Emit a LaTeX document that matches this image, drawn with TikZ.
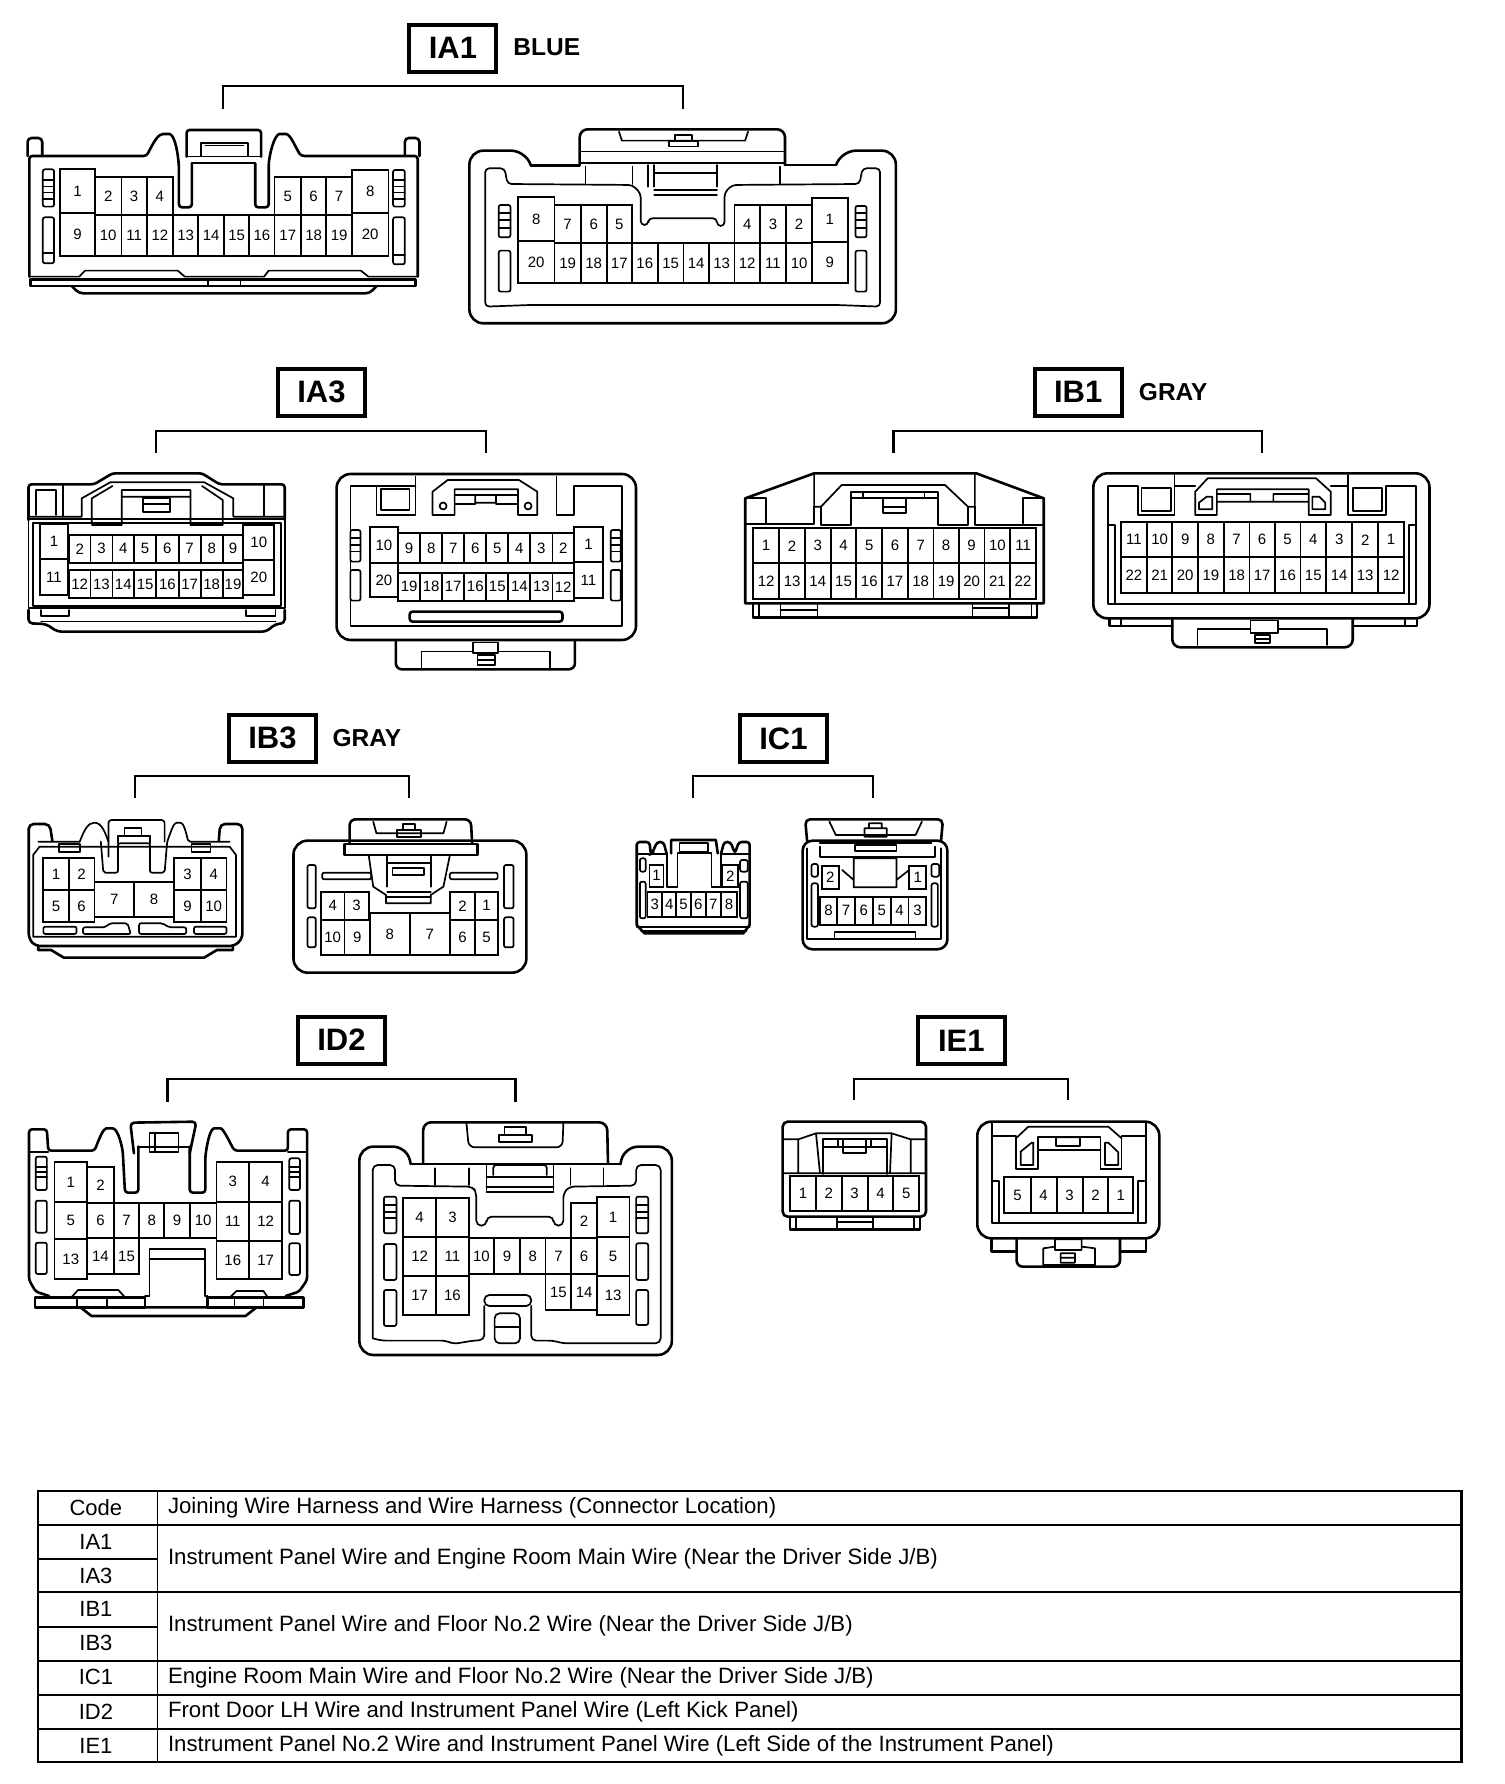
\documentclass[tikz,border=0pt]{standalone}
\usepackage{fontspec}
\setmainfont{Liberation Sans}
\newcounter{pn}
\tikzset{
 ol/.style={line width=2.6pt,line join=round,line cap=round},
 il/.style={line width=1.7pt,line join=round,line cap=round},
 pinline/.style={line width=1.8pt},
 pinnum/.style={inner sep=0pt,font=\fontsize{15}{15}\selectfont},
 bracket/.style={line width=2.2pt},
 titlebox/.style={draw,line width=4pt,minimum width=87pt,minimum height=47pt,inner sep=0pt,font=\fontsize{31}{31}\selectfont\bfseries},
 colorlabel/.style={inner sep=0pt,font=\fontsize{24.5}{25}\selectfont\bfseries},
 tbl/.style={line width=2.2pt},
 tcode/.style={inner sep=0pt,font=\fontsize{22}{22}\selectfont},
 ttext/.style={inner sep=0pt,anchor=west,font=\fontsize{22.2}{22}\selectfont},
}
\newcommand{\pinbox}[5]{\stepcounter{pn}\draw[pinline] (#1,#3) rectangle (#2,#4); \node[pinnum] (pin\arabic{pn}) at ({(#1+#2)/2},{(#3+#4)/2}) {#5};}
\newcommand{\prow}[4]{\foreach \xr/\lab [remember=\xr as \xl (initially #3)] in {#4}{\pinbox{\xl}{\xr}{#1}{#2}{\lab}}}
\newcommand{\sbar}[4]{\draw[il,rounded corners=2pt] (#1,#2) rectangle (#3,#4);}
\newcommand{\ribs}[3]{\foreach \ry in {#3}{\draw[il] (#1,\ry) -- (#2,\ry);}}
\begin{document}
\begin{tikzpicture}[x=1pt,y=-1pt]
\fill[white] (0,0) rectangle (1504,1784);
\useasboundingbox (0,0) rectangle (1504,1784);

% ===== IA1 =====
\begin{scope}[x=.5867pt,y=-.3333pt]
\node[titlebox] (tIA1) at (772,145) {IA1};
\node[colorlabel] (cIA1) at (932,143) {BLUE};
\coordinate (a1) at (380,328); \coordinate (a2) at (1164,328); \coordinate (a3) at (772,258);
\draw[bracket] (a1) |- (a3) -| (a2);
% left
\draw[ol,rounded corners=3pt] (50,830) -- (50,468) -- (250,468) .. controls (262,425) and (270,402) .. (283,402) .. controls (296,402) and (302,440) .. (305,500) -- (305,622) -- (327,622) -- (327,490);
\draw[ol,rounded corners=3pt] (435,490) -- (435,622) -- (458,622) -- (458,490) .. controls (462,440) and (470,402) .. (482,402) .. controls (495,402) and (503,440) .. (513,468) -- (712,468) -- (712,830);
\draw[ol,rounded corners=4pt] (47,468) -- (47,414) -- (72,414) -- (72,465);
\draw[ol,rounded corners=4pt] (690,465) -- (690,414) -- (715,414) -- (715,468);
\draw[ol,rounded corners=3pt] (318,470) -- (318,390) -- (445,390) -- (445,470);
\draw[il] (327,490) -- (435,490) (318,470) -- (445,470);
\draw[il] (343,468) -- (343,430) -- (423,430) -- (423,468) (350,437) -- (415,437);
\draw[il] (50,830) -- (135,830) -- (145,812) -- (303,812) -- (315,830) -- (450,830) -- (458,812) -- (615,812) -- (628,830) -- (712,830);
\draw[ol] (52,838) rectangle (708,858);
\draw[il] (355,838) -- (355,858) (410,838) -- (410,858);
\draw[ol,rounded corners=4pt] (122,858) -- (135,880) -- (630,880) -- (642,858);
\prow{532}{645}{162}{207/2,250/3,295/4}
\prow{532}{645}{468}{513/5,556/6,600/7}
\pinbox{102}{162}{508}{640}{1}
\pinbox{600}{662}{510}{640}{8}
\pinbox{102}{162}{640}{768}{9}
\pinbox{600}{662}{640}{768}{20}
\prow{645}{768}{162}{207/10,250/11,295/12,338/13,382/14,425/15,468/16,513/17,556/18,600/19}
\sbar{73}{508}{92}{620}\ribs{73}{92}{540,560,578,597}
\sbar{73}{652}{92}{790}\ribs{73}{92}{760}
\sbar{670}{510}{690}{620}\ribs{670}{690}{540,560,578,597}
\sbar{670}{652}{690}{793}\ribs{670}{690}{765}
% right
\draw[ol,rounded corners=14pt] (905,497) -- (895,452) -- (800,452) -- (800,970) -- (1527,970) -- (1527,452) -- (1435,452) -- (1425,495);
\draw[ol] (905,497) -- (988,497) (1338,495) -- (1425,495);
\draw[ol,rounded corners=8pt] (988,495) -- (988,388) -- (1338,388) -- (1338,495);
\draw[il] (988,455) -- (1338,455) (988,490) -- (1338,490);
\draw[il] (1055,395) -- (1060,422) -- (1270,422) -- (1275,395);
\draw[il] (1140,440) rectangle (1190,425) (1150,425) rectangle (1180,405);
\draw[il,rounded corners=4pt] (827,920) -- (827,505) -- (860,505) -- (865,552) -- (1078,555) -- (1092,580) -- (1092,675) -- (1105,675) -- (1105,655) -- (1222,655) -- (1222,678) -- (1235,678) -- (1235,578) -- (1248,555) -- (1465,552) -- (1470,505) -- (1500,505) -- (1500,920) -- (1425,915) -- (905,915) -- cycle;
\draw[il] (998,500) -- (998,552) (1330,500) -- (1330,552) (1078,500) -- (1078,552) (1105,495) -- (1105,560) (1115,495) -- (1115,560) (1222,495) -- (1222,560) (1115,520) -- (1222,520) (1115,570) -- (1222,570) (1115,585) -- (1222,585);
\pinbox{883}{945}{592}{723}{8}
\prow{615}{730}{945}{990/7,1034/6,1077/5}
\prow{615}{730}{1252}{1295/4,1340/3,1384/2}
\pinbox{1384}{1445}{593}{725}{1}
\pinbox{883}{945}{723}{850}{20}
\prow{730}{850}{945}{990/19,1034/18,1077/17,1121/16,1165/15,1208/14,1252/13,1295/12,1340/11,1384/10}
\pinbox{1384}{1445}{725}{850}{9}
\sbar{850}{615}{870}{712}\ribs{850}{870}{640,660,685}
\sbar{850}{752}{870}{875}
\sbar{1458}{618}{1477}{712}\ribs{1458}{1477}{640,660,685}
\sbar{1458}{752}{1477}{875}
\end{scope}

% ===== IA3 =====
\begin{scope}[yshift=-350pt,x=.4592pt,y=-.3333pt]
\node[titlebox] (tIA3) at (700,127) {IA3};
\coordinate (b1) at (340,310); \coordinate (b2) at (1058,310); \coordinate (b3) at (700,242);
\draw[bracket] (b1) |- (b3) -| (b2);
\draw[ol,rounded corners=3pt] (62,510) -- (62,403) -- (205,403) -- (245,370) -- (440,370) -- (478,403) -- (620,403) -- (620,510);
\draw[il] (78,495) -- (78,420) -- (122,420) -- (122,495) (137,403) -- (137,500) (575,405) -- (575,500);
\draw[il] (62,500) -- (178,500) -- (178,445) -- (240,397) -- (445,397) -- (508,445) -- (508,500) -- (620,500);
\draw[il] (200,520) -- (200,445) -- (245,408) (485,450) -- (485,525) -- (415,525) -- (415,420) -- (265,420) -- (265,525) -- (200,525) (440,408) -- (485,450) (265,440) -- (415,440);
\draw[il] (312,445) rectangle (370,485) (312,462) -- (370,462);
\draw[il] (62,508) rectangle (620,775);
\draw[il] (72,518) rectangle (612,768);
\draw[ol,rounded corners=4pt] (62,780) -- (62,820) -- (100,822) -- (125,845) -- (580,845) -- (600,822) -- (620,820) -- (620,780);
\draw[il] (90,780) -- (90,798) -- (150,798) -- (150,780) (535,780) -- (535,798) -- (600,798) -- (600,780) (90,815) -- (600,815);
\pinbox{87}{148}{522}{628}{1}\pinbox{87}{148}{628}{735}{11}
\prow{555}{638}{150}{197/2,245/3,292/4,340/5,389/6,437/7,485/8,530/9}
\prow{660}{745}{150}{197/12,245/13,292/14,340/15,389/16,437/17,485/18,530/19}
\pinbox{530}{597}{525}{630}{10}\pinbox{530}{597}{630}{735}{20}
% right
\draw[ol,rounded corners=14pt] (733,372) rectangle (1385,870);
\draw[il] (905,380) -- (905,495) -- (820,495) -- (820,408) -- (763,408) -- (763,828) -- (1355,828) -- (1355,408) -- (1250,408) -- (1250,495) -- (1212,495) -- (1212,380) (905,408) -- (820,408);
\draw[il] (830,418) rectangle (892,480);
\draw[il] (942,495) -- (942,425) -- (975,390) -- (1130,390) -- (1170,425) -- (1170,495) -- (1128,495) -- (1128,418) -- (990,418) -- (990,495) -- cycle (990,462) -- (1035,462) -- (1035,458) -- (1080,458) -- (1080,462) -- (1128,462) (1035,435) -- (1035,458) (1080,435) -- (1080,458) (990,435) -- (1128,435);
\draw[il] (965,468) circle[radius=3.5pt] (1150,468) circle[radius=3.5pt];
\draw[ol,rounded corners=3pt] (892,785) rectangle (1225,815);
\draw[ol,rounded corners=6pt] (862,872) -- (862,958) -- (1252,958) -- (1252,872);
\draw[il] (918,955) -- (918,905) -- (1030,905) (1085,905) -- (1198,905) -- (1198,955);
\draw[il] (1030,878) rectangle (1085,910) (1040,915) rectangle (1078,945) (1040,930) -- (1078,930);
\pinbox{805}{867}{530}{640}{10}\pinbox{805}{867}{640}{742}{20}
\prow{550}{638}{867}{915/9,963/8,1011/7,1059/6,1107/5,1155/4,1203/3,1250/2}
\prow{668}{753}{867}{915/19,963/18,1011/17,1059/16,1107/15,1155/14,1203/13,1250/12}
\pinbox{1250}{1313}{530}{635}{1}\pinbox{1250}{1313}{635}{745}{11}
\sbar{763}{540}{785}{635}\ribs{763}{785}{565,585,605}
\sbar{763}{660}{785}{752}
\sbar{1330}{540}{1352}{635}\ribs{1330}{1352}{565,585,605}
\sbar{1330}{660}{1352}{752}
\end{scope}

% ===== IB1 =====
\begin{scope}[xshift=720pt,yshift=-350pt,x=.4592pt,y=-.3333pt]
\node[titlebox] (tIB1) at (780,127) {IB1};
\node[colorlabel] (cIB1) at (987,125) {GRAY};
\coordinate (c1) at (378,310); \coordinate (c2) at (1180,310); \coordinate (c3) at (780,242);
\draw[bracket] (c1) |- (c3) -| (c2);
\draw[ol] (55,760) -- (55,445) -- (205,370) -- (558,370) -- (705,445) -- (705,760) -- cycle;
\draw[il] (55,445) -- (100,445) -- (100,520) (660,520) -- (660,445) -- (705,445);
\draw[il] (205,370) -- (205,470) -- (220,470) -- (265,405) -- (490,405) -- (540,470) -- (555,470) -- (555,370);
\draw[il] (55,522) -- (205,522) -- (205,470) (220,470) -- (220,525) -- (285,525) -- (285,425) -- (475,425) -- (475,525) -- (540,525) -- (540,470) (555,470) -- (555,525) -- (705,525) (285,445) -- (475,445);
\draw[il] (355,445) rectangle (405,490) (355,470) -- (405,470) (312,425) -- (312,445) (445,425) -- (445,445);
\prow{535}{640}{72}{129/1,185/2,241/3,297/4,353/5,409/6,465/7,520/8,576/9,632/10,688/11}
\prow{640}{748}{72}{129/12,185/13,241/14,297/15,353/16,409/17,465/18,520/19,576/20,632/21,688/22}
\draw[ol] (72,760) -- (72,802) -- (690,802) -- (690,760);
\draw[il] (85,762) -- (85,800) (132,762) -- (132,800) (212,762) -- (212,800) (132,780) -- (212,780) (550,762) -- (550,800) (630,762) -- (630,800) (550,775) -- (630,775) (678,762) -- (678,800);
% right
\draw[ol,rounded corners=14pt] (813,370) rectangle (1545,805);
\draw[il] (990,375) -- (990,495) -- (910,495) -- (910,408) -- (845,408) -- (845,762) -- (1515,762) -- (1515,408) -- (1450,408) -- (1450,495) -- (1368,495) -- (1368,375) (990,408) -- (1035,408) (1330,408) -- (1368,408);
\draw[il] (918,415) rectangle (982,482) (1378,415) rectangle (1442,482);
\draw[il] (1035,495) -- (1035,425) -- (1062,385) -- (1298,385) -- (1330,425) -- (1330,495) -- (1282,495) -- (1282,418) -- (1082,418) -- (1082,495) -- cycle (1082,432) -- (1155,432) -- (1155,455) -- (1205,455) -- (1205,432) -- (1282,432) (1082,455) -- (1282,455);
\draw[il] (1043,478) -- (1043,458) -- (1060,440) -- (1072,440) -- (1072,478) -- cycle (1290,478) -- (1290,440) -- (1305,440) -- (1318,458) -- (1318,478) -- cycle;
\prow{517}{622}{873}{930/11,985/10,1041/9,1097/8,1153/7,1208/6,1264/5,1320/4,1377/3,1433/2,1490/1}
\prow{622}{728}{873}{930/22,985/21,1041/20,1097/19,1153/18,1208/17,1264/16,1320/15,1377/14,1433/13,1490/12}
\draw[il] (847,525) -- (860,525) -- (860,760) (1500,760) -- (1500,525) -- (1512,525);
\draw[ol] (848,805) -- (848,828) -- (985,828) (1378,828) -- (1518,828) -- (1518,805);
\draw[il] (873,808) -- (873,828) (1492,808) -- (1492,825);
\draw[ol,rounded corners=8pt] (985,805) -- (985,892) -- (1378,892) -- (1378,805);
\draw[il] (1040,885) -- (1040,838) -- (1155,838) (1215,838) -- (1322,838) -- (1322,885);
\draw[il] (1155,812) rectangle (1215,850) (1165,855) rectangle (1197,880) (1165,867) -- (1197,867);
\end{scope}

% ===== IB3 + IC1 =====
\begin{scope}[yshift=-690pt,x=.638pt,y=-.3333pt]
\node[titlebox] (tIB3) at (427,145) {IB3};
\node[colorlabel] (cIB3) at (575,143) {GRAY};
\coordinate (d1) at (212,325); \coordinate (d2) at (641,325); \coordinate (d3) at (427,258);
\draw[bracket] (d1) |- (d3) -| (d2);
\node[titlebox] (tIC1) at (1228,145) {IC1};
\coordinate (e1) at (1086,325); \coordinate (e2) at (1368,325); \coordinate (e3) at (1228,258);
\draw[bracket] (e1) |- (e3) -| (e2);
% IB3 left
\draw[ol,rounded corners=5pt] (82,452) -- (78,402) -- (45,402) -- (45,745) -- (55,768) -- (368,768) -- (380,745) -- (380,402) -- (345,402) -- (343,452);
\draw[il] (60,455) -- (125,455) .. controls (132,420) and (138,398) .. (148,398) .. controls (160,398) and (165,430) .. (170,455) (170,500) -- (170,455);
\draw[il,rounded corners=3pt] (170,455) -- (170,390) -- (258,390) -- (258,455);
\draw[il,rounded corners=2pt] (158,455) -- (162,548) -- (185,548) -- (185,460) -- (235,460) -- (235,548) -- (258,548) -- (262,455) .. controls (268,425) and (272,398) .. (280,398) .. controls (288,398) and (292,430) .. (295,455) -- (360,455);
\draw[il] (195,415) rectangle (222,437) (185,437) -- (235,437) (185,437) -- (185,460) (235,437) -- (235,460);
\draw[il] (92,462) rectangle (125,485) (300,462) rectangle (330,485);
\draw[il] (52,740) -- (52,495) -- (62,470) -- (360,470) -- (370,495) -- (370,740) -- cycle;
\pinbox{68}{108}{505}{600}{1}\pinbox{108}{148}{505}{600}{2}
\pinbox{68}{108}{600}{697}{5}\pinbox{108}{148}{600}{697}{6}
\pinbox{148}{210}{575}{682}{7}\pinbox{210}{273}{575}{682}{8}
\pinbox{273}{315}{505}{600}{3}\pinbox{315}{355}{505}{600}{4}
\pinbox{273}{315}{600}{697}{9}\pinbox{315}{355}{600}{697}{10}
\sbar{68}{710}{120}{732}\sbar{304}{710}{355}{732}
\draw[il,rounded corners=2pt] (130,732) -- (130,712) -- (165,712) -- (172,700) -- (200,700) -- (205,732) -- cycle (218,732) -- (218,700) -- (255,700) -- (265,712) -- (292,712) -- (292,732) -- cycle;
\draw[ol] (60,768) -- (60,780) -- (80,780) -- (100,803) -- (320,803) -- (340,780) -- (365,780) -- (365,768);
% IB3 right
\draw[ol,rounded corners=14pt] (460,452) rectangle (825,848);
\draw[ol,fill=white] (540,462) rectangle (748,495);
\draw[ol,rounded corners=6pt] (548,460) -- (548,388) -- (738,388) -- (740,460);
\draw[il] (585,395) -- (590,430) -- (695,430) -- (700,395);
\draw[il] (622,420) rectangle (660,442) (632,402) rectangle (650,420);
\draw[il] (578,497) -- (585,590) -- (605,615) -- (605,640) -- (675,640) -- (675,615) -- (695,590) -- (705,497);
\draw[il] (607,500) -- (607,590) (675,500) -- (675,590) (607,520) -- (675,520) (607,605) -- (675,605) (607,622) -- (675,622) (615,535) rectangle (665,555);
\sbar{505}{548}{582}{568}\sbar{705}{548}{780}{568}
\sbar{482}{525}{495}{655}\sbar{482}{682}{495}{772}
\sbar{790}{525}{805}{655}\sbar{790}{682}{805}{772}
\pinbox{503}{540}{605}{690}{4}\pinbox{540}{578}{605}{690}{3}
\pinbox{503}{540}{690}{795}{10}\pinbox{540}{580}{690}{795}{9}
\pinbox{580}{642}{670}{795}{8}\pinbox{642}{705}{670}{795}{7}
\pinbox{705}{745}{605}{690}{2}\pinbox{745}{780}{605}{690}{1}
\pinbox{705}{745}{690}{795}{6}\pinbox{745}{780}{690}{795}{5}
% IC1 left
\draw[ol,rounded corners=3pt] (998,705) -- (998,456) -- (1018,456) -- (1020,492) -- (1022,490) -- (1030,456) -- (1040,456) -- (1045,492);
\draw[ol,rounded corners=3pt] (1130,492) -- (1135,456) -- (1145,456) -- (1152,490) -- (1158,456) -- (1175,456) -- (1175,705);
\draw[ol] (1052,490) -- (1052,450) -- (1122,450) -- (1125,490);
\draw[il] (1065,458) rectangle (1110,485);
\draw[il] (998,492) -- (1045,492) (1130,492) -- (1175,492);
\draw[il] (1045,490) -- (1045,590) -- (1062,590) -- (1062,490) -- (1115,490) -- (1115,590) -- (1130,590) -- (1130,490);
\sbar{1003}{505}{1012}{545}\sbar{1003}{575}{1012}{685}\sbar{1160}{510}{1172}{545}\sbar{1160}{575}{1172}{685}
\pinbox{1018}{1040}{525}{590}{1}\pinbox{1132}{1157}{525}{590}{2}
\prow{607}{682}{1015}{1038/3,1060/4,1083/5,1106/6,1130/7,1155/8}
\draw[ol] (998,705) -- (1010,730) -- (1165,730) -- (1175,705);
\draw[il] (998,712) -- (1175,712) (1005,722) -- (1170,722);
% IC1 right
\draw[ol,rounded corners=10pt] (1258,452) rectangle (1485,778);
\draw[ol,rounded corners=5pt] (1265,452) -- (1262,388) -- (1478,388) -- (1475,452);
\draw[il] (1300,395) -- (1310,435) -- (1435,435) -- (1445,395) (1355,415) rectangle (1390,440) (1362,400) rectangle (1382,415);
\draw[il] (1265,475) -- (1265,748) -- (1475,748) -- (1475,475) (1285,470) -- (1285,500) -- (1465,500) -- (1465,470) (1285,460) -- (1460,460) (1340,465) rectangle (1405,482);
\draw[il] (1338,505) rectangle (1405,592) (1320,540) -- (1338,570) (1405,570) -- (1425,540);
\sbar{1272}{522}{1282}{560}\sbar{1272}{580}{1282}{710}\sbar{1460}{522}{1472}{560}\sbar{1460}{580}{1470}{710}
\pinbox{1288}{1315}{528}{597}{2}\pinbox{1425}{1452}{528}{597}{1}
\prow{620}{705}{1285}{1312/8,1340/7,1368/6,1396/5,1424/4,1452/3}
\draw[il] (1308,748) -- (1308,725) -- (1435,725) -- (1435,748);
\end{scope}

% ===== ID2 =====
\begin{scope}[yshift=-990pt,x=.4464pt,y=-.3333pt]
\node[titlebox] (tID2) at (765,150) {ID2};
\coordinate (f1) at (375,335); \coordinate (f2) at (1155,335); \coordinate (f3) at (765,268);
\draw[bracket] (f1) |- (f3) -| (f2);
% left
\draw[ol,rounded corners=3pt] (110,918) -- (80,905) -- (65,870) -- (65,418) -- (105,418) -- (108,482) -- (212,482) .. controls (222,445) and (232,415) .. (245,415) .. controls (262,415) and (270,450) .. (275,485) -- (280,608) -- (310,608) -- (310,470);
\draw[ol,rounded corners=3pt] (425,470) -- (425,608) -- (460,608) -- (460,500) .. controls (465,450) and (472,415) .. (487,415) .. controls (500,415) and (512,450) .. (525,482) -- (645,482) -- (645,418) -- (688,418) -- (688,870) -- (670,905) -- (640,918);
\draw[il] (65,485) -- (108,485) (645,485) -- (688,485);
\draw[ol,rounded corners=4pt] (300,490) -- (292,398) -- (440,395) -- (425,490);
\draw[il] (310,470) -- (425,470) (335,430) rectangle (400,485) (347,430) -- (347,485);
\draw[il] (325,918) -- (335,918) -- (335,778) -- (460,778) -- (460,918) -- (465,918) (335,808) -- (460,808);
\draw[ol] (78,922) rectangle (325,952) (465,922) rectangle (680,952);
\draw[il] (172,922) -- (172,952) (240,922) -- (240,952) (525,922) -- (525,952) (590,922) -- (590,952);
\draw[il] (160,922) -- (175,900) -- (265,900) -- (280,922) (515,922) -- (530,903) -- (590,903) -- (600,922);
\draw[ol] (180,952) -- (205,978) -- (550,978) -- (575,952) (325,952) -- (465,952);
\sbar{80}{500}{105}{600}\ribs{80}{105}{530,545,560}
\sbar{80}{632}{105}{728}\sbar{80}{758}{105}{852}
\sbar{648}{505}{672}{600}\ribs{648}{672}{530,545,560}
\sbar{648}{632}{672}{732}\sbar{648}{760}{672}{855}
\pinbox{122}{195}{517}{635}{1}\pinbox{195}{255}{532}{640}{2}
\pinbox{485}{558}{515}{635}{3}\pinbox{558}{632}{515}{635}{4}
\pinbox{122}{195}{635}{748}{5}
\prow{640}{745}{195}{255/6,312/7,368/8,425/9,485/10}
\pinbox{485}{558}{635}{752}{11}\pinbox{558}{632}{635}{752}{12}
\pinbox{122}{195}{748}{868}{13}\pinbox{195}{255}{745}{852}{14}\pinbox{255}{312}{745}{852}{15}
\pinbox{485}{558}{752}{868}{16}\pinbox{558}{632}{752}{868}{17}
% right
\draw[ol,rounded corners=14pt] (920,522) -- (912,470) -- (805,470) -- (805,1095) -- (1505,1095) -- (1505,470) -- (1398,470) -- (1390,522);
\draw[ol] (920,522) -- (1390,522);
\draw[ol,rounded corners=8pt] (948,520) -- (948,397) -- (1360,397) -- (1362,520);
\draw[il,rounded corners=6pt] (1045,400) -- (1050,472) -- (1260,472) -- (1262,400);
\draw[il] (1118,435) rectangle (1192,455) (1130,410) rectangle (1178,435);
\draw[il,rounded corners=5pt] (835,1045) -- (835,525) -- (885,525) -- (885,587) -- (1060,590) -- (1067,610) -- (1067,707) -- (1090,707) -- (1090,680) -- (1240,680) -- (1240,707) -- (1262,707) -- (1262,610) -- (1275,590) -- (1425,587) -- (1425,525) -- (1480,525) -- (1480,1060) -- (1260,1060) -- (1240,1052) -- (1190,1052) -- (1190,948) (835,1045) -- (855,1052) -- (1000,1052) -- (1015,1062) -- (1060,1052) -- (1085,1050) -- (1085,948);
\draw[il,rounded corners=5pt] (1085,915) rectangle (1190,948) (1108,970) rectangle (1165,1060);
\draw[il] (1108,1012) -- (1165,1012);
\draw[il] (975,535) -- (975,585) (1050,535) -- (1050,585) (1278,535) -- (1278,585) (1352,535) -- (1352,585);
\draw[il,rounded corners=3pt] (1105,555) -- (1105,525) -- (1225,525) -- (1225,555);
\draw[il] (1090,525) -- (1090,600) (1240,525) -- (1240,600) (1090,560) -- (1240,560) (1090,592) -- (1240,592) (1090,605) -- (1240,605);
\sbar{860}{620}{888}{730}\ribs{860}{888}{645,665,685}
\sbar{860}{762}{888}{870}\sbar{860}{900}{888}{1008}
\sbar{1425}{620}{1452}{730}\ribs{1425}{1452}{645,665,685}
\sbar{1425}{760}{1452}{870}\sbar{1425}{900}{1452}{1005}
\pinbox{903}{977}{625}{742}{4}\pinbox{977}{1050}{625}{742}{3}
\pinbox{903}{977}{742}{858}{12}\pinbox{977}{1050}{742}{858}{11}
\pinbox{903}{977}{858}{975}{17}\pinbox{977}{1050}{858}{975}{16}
\prow{745}{852}{1050}{1107/10,1165/9,1222/8,1280/7,1337/6}
\pinbox{1280}{1337}{640}{745}{2}\pinbox{1337}{1410}{622}{740}{1}\pinbox{1337}{1410}{740}{858}{5}
\pinbox{1222}{1280}{852}{960}{15}\pinbox{1280}{1337}{852}{960}{14}\pinbox{1337}{1410}{858}{975}{13}
\end{scope}

% ===== IE1 =====
\begin{scope}[xshift=740pt,yshift=-990pt,x=.3333pt,y=-.3333pt]
\node[titlebox] (tIE1) at (664,152) {IE1};
\coordinate (g1) at (343,330); \coordinate (g2) at (985,330); \coordinate (g3) at (664,268);
\draw[bracket] (g1) |- (g3) -| (g2);
\draw[ol,rounded corners=5pt] (128,680) -- (128,395) -- (558,395) -- (558,680) -- cycle;
\draw[il] (128,448) -- (175,448) -- (228,430) -- (455,430) -- (512,448) -- (558,448) (175,448) -- (175,550) (512,448) -- (512,550) (228,430) -- (240,550) (455,430) -- (450,550) (128,550) -- (558,550);
\draw[il] (250,552) -- (250,448) -- (440,448) -- (440,552) (250,470) -- (440,470) (310,448) -- (310,490) -- (378,490) -- (378,448) (295,448) -- (295,470) (392,448) -- (392,470);
\prow{558}{662}{150}{228/1,305/2,383/3,460/4,538/5}
\draw[ol] (150,680) -- (150,718) -- (540,718) -- (540,680);
\draw[il] (168,682) -- (168,716) (290,682) -- (290,716) (400,682) -- (400,716) (290,695) -- (400,695) (522,682) -- (522,716);
\draw[ol,rounded corners=14pt] (712,395) rectangle (1258,745);
\draw[il] (755,398) -- (755,698) -- (1218,698) -- (1218,398) (755,438) -- (828,438) -- (828,538) -- (895,538) -- (895,442) -- (1082,442) -- (1082,538) -- (1145,538) -- (1145,438) -- (1218,438);
\draw[il] (828,445) -- (865,410) -- (1105,410) -- (1145,445) (895,480) -- (1082,480) (948,442) rectangle (1020,468);
\draw[il] (842,525) -- (842,485) -- (875,458) -- (880,458) -- (880,525) -- cycle (1095,525) -- (1095,458) -- (1105,458) -- (1135,487) -- (1135,525) -- cycle;
\prow{562}{668}{793}{872/5,950/4,1028/3,1105/2,1180/1}
\draw[il] (760,572) -- (778,572) -- (778,695) (1195,695) -- (1195,572) -- (1213,572);
\draw[ol] (755,745) -- (755,785) -- (830,785) (1140,785) -- (1218,785) -- (1218,745);
\draw[ol,rounded corners=6pt] (830,745) -- (830,830) -- (1140,830) -- (1140,745);
\draw[il] (910,825) -- (910,775) -- (945,770) (1025,770) -- (1065,775) -- (1065,825) -- (910,825) (945,748) rectangle (1025,780) (962,790) rectangle (1005,818) (962,803) -- (1005,803);
\end{scope}

% ===== table =====
\begin{scope}[yshift=-1460pt,x=.959pt,y=-.3333pt]
\draw[tbl] (40,92) rectangle (1524,905);
\draw[tbl] (40,195) -- (1524,195) (40,397) -- (1524,397) (40,603) -- (1524,603) (40,705) -- (1524,705) (40,808) -- (1524,808) (40,298) -- (164,298) (40,500) -- (164,500);
\draw[tbl,line width=1.4pt] (164,92) -- (164,905);
\node[tcode] (c0) at (100,142) {Code};
\node[ttext] (r0) at (175,142) {Joining Wire Harness and Wire Harness (Connector Location)};
\node[tcode] (c1) at (100,245) {IA1};
\node[tcode] (c2) at (100,347) {IA3};
\node[ttext] (r1) at (175,295) {Instrument Panel Wire and Engine Room Main Wire (Near the Driver Side J/B)};
\node[tcode] (c3) at (100,447) {IB1};
\node[tcode] (c4) at (100,550) {IB3};
\node[ttext] (r2) at (175,497) {Instrument Panel Wire and Floor No.2 Wire (Near the Driver Side J/B)};
\node[tcode] (c5) at (100,652) {IC1};
\node[ttext] (r3) at (175,652) {Engine Room Main Wire and Floor No.2 Wire (Near the Driver Side J/B)};
\node[tcode] (c6) at (100,755) {ID2};
\node[ttext] (r4) at (175,755) {Front Door LH Wire and Instrument Panel Wire (Left Kick Panel)};
\node[tcode] (c7) at (100,857) {IE1};
\node[ttext] (r5) at (175,857) {Instrument Panel No.2 Wire and Instrument Panel Wire (Left Side of the Instrument Panel)};
\end{scope}
\end{tikzpicture}
\end{document}
